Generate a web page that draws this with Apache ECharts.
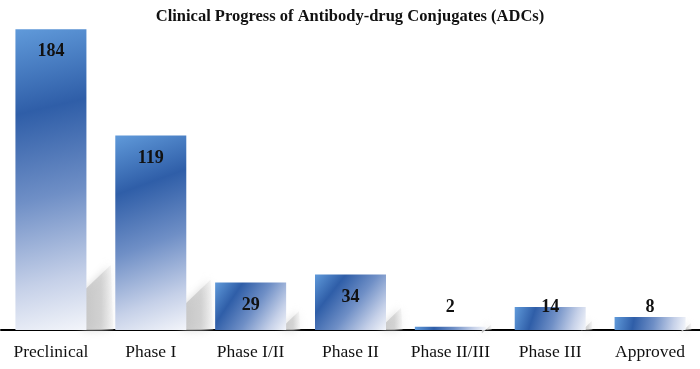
<!DOCTYPE html>
<html>
<head>
<meta charset="utf-8">
<script src="https://cdn.jsdelivr.net/npm/echarts@6/dist/echarts.min.js"></script>
<style>html,body{margin:0;padding:0;background:#fff}#c{width:700px;height:369px}</style>
</head>
<body>
<div id="c"></div>
<script>
var titleText = 'Clinical Progress of Antibody-drug Conjugates (ADCs)';
var categories = ['Preclinical', 'Phase I', 'Phase I/II', 'Phase II', 'Phase II/III', 'Phase III', 'Approved'];
var values = [184, 119, 29, 34, 2, 14, 8];

var chart = echarts.init(document.getElementById('c'), null, {renderer: 'canvas'});
var serif = '"Liberation Serif", "Times New Roman", serif';
var BAR_W = 71;

var barGradient = new echarts.graphic.LinearGradient(0, 0, 1, 1, [
  {offset: 0, color: '#609ada'},
  {offset: 0.27, color: '#2f5ea8'},
  {offset: 0.55, color: '#6f8fc6'},
  {offset: 0.82, color: '#c5d0e8'},
  {offset: 1, color: '#f3f5fa'}
]);

var pairData = values.map(function (v, i) { return [i, v]; });

chart.setOption({
  animation: false,
  title: {
    text: titleText,
    left: 'center',
    top: 3,
    textStyle: {fontFamily: serif, fontSize: 16.5, fontWeight: 'bold', color: '#111'}
  },
  grid: {left: 1, right: 0, top: 3, bottom: 39, containLabel: false},
  xAxis: {
    type: 'category',
    data: categories,
    axisTick: {show: false},
    axisLine: {show: true, lineStyle: {color: '#000', width: 2}},
    axisLabel: {fontFamily: serif, fontSize: 17.5, color: '#111', margin: 13, interval: 0}
  },
  yAxis: {
    type: 'value', min: 0, max: 200, show: false,
    splitLine: {show: false}
  },
  series: [
    {
      type: 'custom',
      z: 1,
      data: pairData,
      renderItem: function (params, api) {
        var i = api.value(0), v = api.value(1);
        var p0 = api.coord([i, 0]);
        var p1 = api.coord([i, v]);
        var H = p0[1] - p1[1];
        var a = 0.14 * H;
        var L = Math.min(Math.max(0.3 * H, 6), 27);
        var xR = p0[0] + BAR_W / 2;
        var y0 = p0[1];
        return {
          type: 'polygon',
          shape: {points: [[xR - 4, y0], [xR - 4, y0 - a + 4], [xR + L * 0.9, y0 - a - L * 0.85], [xR + L, y0]]},
          style: {
            fill: new echarts.graphic.LinearGradient(0, 0, 1, 0, [
              {offset: 0, color: 'rgba(195,195,195,0.9)'},
              {offset: 0.6, color: 'rgba(205,205,205,0.75)'},
              {offset: 1, color: 'rgba(230,230,230,0.25)'}
            ]),
            shadowBlur: 8,
            shadowColor: 'rgba(205,205,205,0.9)'
          },
          silent: true
        };
      }
    },
    {
      type: 'bar',
      z: 2,
      data: values,
      barWidth: BAR_W,
      itemStyle: {color: barGradient}
    },
    {
      type: 'custom',
      z: 3,
      data: pairData,
      renderItem: function (params, api) {
        var i = api.value(0), v = api.value(1);
        var p0 = api.coord([i, 0]);
        var p1 = api.coord([i, v]);
        var y = Math.min(p1[1] + 22.5, p0[1] - 23);
        return {
          type: 'text',
          style: {
            x: p0[0], y: y,
            text: String(v),
            align: 'center', verticalAlign: 'middle',
            fontFamily: serif, fontSize: 18, fontWeight: 'bold', fill: '#111'
          },
          silent: true
        };
      }
    }
  ]
});
</script>
</body>
</html>
